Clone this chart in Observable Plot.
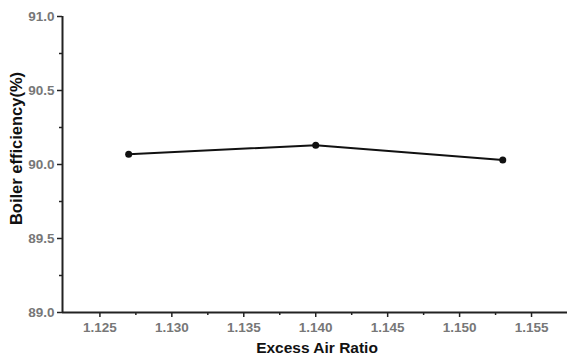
<!DOCTYPE html>
<html>
<head>
<meta charset="utf-8">
<script src="https://cdn.jsdelivr.net/npm/d3@7"></script>
<script src="https://cdn.jsdelivr.net/npm/@observablehq/plot@0.6"></script>
<style>
  html, body { margin: 0; padding: 0; background: #fff; }
  #chart { width: 567px; height: 358px; }
</style>
</head>
<body>
<div id="chart"></div>
<script>
const excessAir = [1.127, 1.140, 1.153];
const efficiency = [90.07, 90.13, 90.03];
const xTicks = [1.125, 1.130, 1.135, 1.140, 1.145, 1.150, 1.155];
const xMinorTicks = [1.1275, 1.1325, 1.1375, 1.1425, 1.1475, 1.1525];
const yTicks = [89.0, 89.5, 90.0, 90.5, 91.0];
const yMinorTicks = [89.25, 89.75, 90.25, 90.75];
const xLabel = "Excess Air Ratio";
const yLabel = "Boiler efficiency(%)";

const data = excessAir.map((x, i) => ({x, y: efficiency[i]}));
const xDomain = [1.1224, 1.1575];
const yDomain = [89.0, 91.0];

const tickStyle = {fill: "#777", fontWeight: "bold", fontSize: 13.5, fontFamily: "Liberation Sans, Arial, sans-serif"};

const chart = Plot.plot({
  width: 567,
  height: 358,
  marginLeft: 62,
  marginRight: 0,
  marginTop: 16,
  marginBottom: 46,
  style: {fontFamily: "Liberation Sans, Arial, sans-serif", background: "#fff"},
  x: {domain: xDomain},
  y: {domain: yDomain},
  marks: [
    Plot.axisX({ticks: xTicks, tickFormat: d3.format(".3f"), tickSize: 5, tickPadding: 5, stroke: "#222", strokeWidth: 1.5, label: null, ...tickStyle}),
    Plot.axisX({ticks: xMinorTicks, tickFormat: () => "", tickSize: 3, stroke: "#222", strokeWidth: 1.5, label: null}),
    Plot.axisY({ticks: yTicks, tickFormat: d3.format(".1f"), tickSize: 5, tickPadding: 3, stroke: "#222", strokeWidth: 1.5, label: null, ...tickStyle}),
    Plot.axisY({ticks: yMinorTicks, tickFormat: () => "", tickSize: 3, stroke: "#222", strokeWidth: 1.5, label: null}),
    Plot.ruleY([yDomain[0]], {stroke: "#222", strokeWidth: 2}),
    Plot.ruleX([xDomain[0]], {stroke: "#222", strokeWidth: 2}),
    Plot.line(data, {x: "x", y: "y", stroke: "#111", strokeWidth: 2}),
    Plot.dot(data, {x: "x", y: "y", r: 3.5, fill: "#111", stroke: "none"}),
    Plot.text([xLabel], {frameAnchor: "bottom", dy: 40, dx: 2, text: d => d, fontSize: 15.5, fontWeight: "bold", fill: "#111"}),
    Plot.text([yLabel], {frameAnchor: "left", textAnchor: "middle", dx: -46, dy: -16, rotate: -90, text: d => d, fontSize: 16.5, fontWeight: "bold", fill: "#111"})
  ]
});
document.getElementById("chart").appendChild(chart);
</script>
</body>
</html>
